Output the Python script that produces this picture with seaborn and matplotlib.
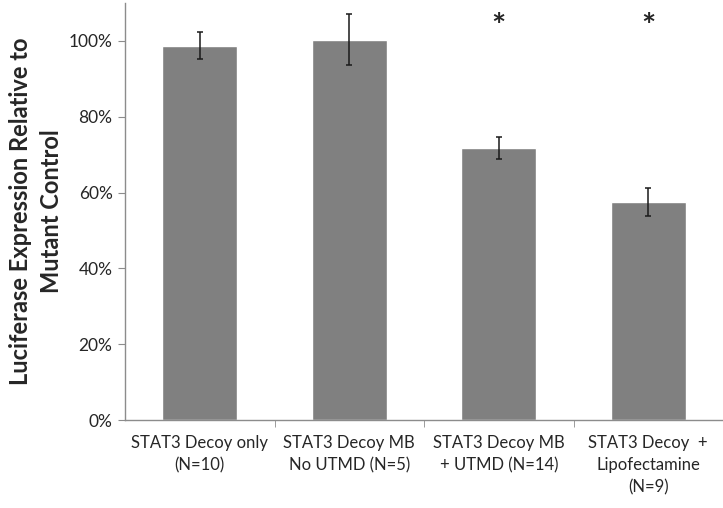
import matplotlib
matplotlib.use("Agg")
import matplotlib.pyplot as plt
import seaborn as sns
import pandas as pd
from matplotlib.ticker import PercentFormatter, FixedLocator

categories = ["STAT3 Decoy only\n(N=10)", "STAT3 Decoy MB\nNo UTMD (N=5)",
              "STAT3 Decoy MB\n+ UTMD (N=14)", "STAT3 Decoy  +\nLipofectamine\n(N=9)"]
values = [0.988, 1.003, 0.718, 0.575]
errors = [0.036, 0.067, 0.029, 0.037]
significant = [False, False, True, True]
star_y = 1.035
yticks = [0, 0.2, 0.4, 0.6, 0.8, 1.0]

sns.set_style("white")
plt.rcParams['font.family'] = ['Lato', 'DejaVu Sans']

df = pd.DataFrame({"cat": categories, "val": values})
fig = plt.figure(figsize=(7.23, 5.08), dpi=100)
ax = fig.add_axes([0.173, 0.173, 0.827, 0.821])
sns.barplot(data=df, x="cat", y="val", color="#808080", saturation=1, width=0.5,
            ax=ax, errorbar=None)
ax.errorbar(range(len(values)), values, yerr=errors, fmt="none", ecolor="#1a1a1a",
            elinewidth=1.1, capsize=2.3, capthick=1.1)
for i, s in enumerate(significant):
    if s:
        ax.text(i, star_y, "*", ha="center", va="center", fontsize=24, fontweight="bold")

ax.set_xlim(-0.5, len(values) - 0.5)
ax.set_ylim(0, 1.1)
ax.set_yticks(yticks)
ax.yaxis.set_major_formatter(PercentFormatter(1.0, decimals=0))
ax.set_xlabel("")
ax.set_ylabel("Luciferase Expression Relative to\nMutant Control", fontsize=17,
              fontweight="bold", labelpad=4, linespacing=1.45)
for s in ["top", "right"]:
    ax.spines[s].set_visible(False)
for s in ["left", "bottom"]:
    ax.spines[s].set_color("#8c8c8c")
    ax.spines[s].set_linewidth(1.0)
ax.tick_params(axis="y", which="major", left=True, length=5, color="#8c8c8c",
               labelsize=12.5, pad=4)
ax.tick_params(axis="x", which="major", bottom=False, labelsize=12, pad=7)
for lbl in ax.get_xticklabels():
    lbl.set_linespacing(1.5)
ax.xaxis.set_minor_locator(FixedLocator([0.5, 1.5, 2.5]))
ax.tick_params(axis="x", which="minor", bottom=True, length=5, color="#8c8c8c")

fig.savefig("out.png", dpi=100)
